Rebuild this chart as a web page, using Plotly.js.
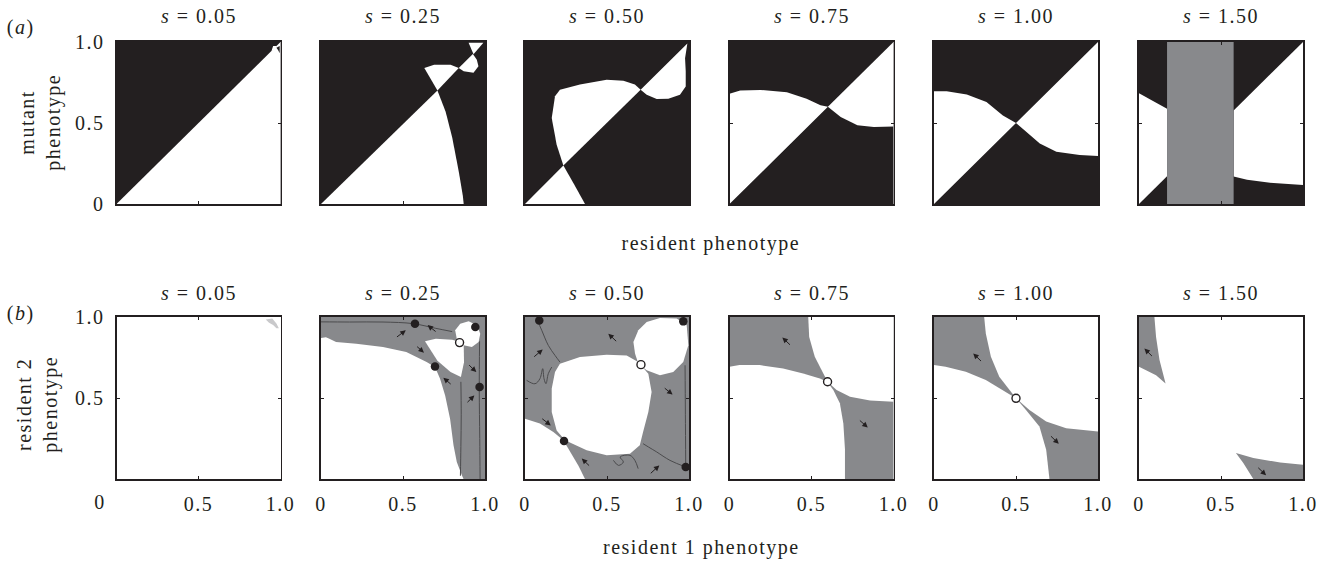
<!DOCTYPE html>
<html><head><meta charset="utf-8">
<script src="https://cdn.plot.ly/plotly-3.0.1.min.js"></script>
<style>html,body{margin:0;padding:0;background:#fff}#chart{width:1336px;height:562px}
#chart .main-svg text{letter-spacing:1.5px}</style>
</head><body><div id="chart"></div>
<script>
// Strength of selection for each column of panels
const sValues = ['0.05', '0.25', '0.50', '0.75', '1.00', '1.50'];
const tickVals = [0, 0.5, 1];
const tickText = ['0', '0.5', '1.0'];

// ---- Row (a): pairwise invasibility plots; white = mutant cannot invade, black = can ----
const a1WhiteX = [0, 1, 1];
const a1WhiteY = [0, 0, 1];
const a1SpotX = [0.945, 0.955, 0.975, 0.968];
const a1SpotY = [0.945, 0.975, 0.975, 0.955];
const a1NotchX = [0.975, 0.995, 0.995, 0.985];
const a1NotchY = [0.965, 0.975, 0.93, 0.95];

const a2LowX = [0, 0.87, 0.865, 0.84, 0.80, 0.76, 0.71];
const a2LowY = [0, 0, 0.05, 0.20, 0.41, 0.57, 0.70];
const a2WedgeX = [0.71, 0.665, 0.63, 0.69, 0.79, 0.84];
const a2WedgeY = [0.70, 0.778, 0.84, 0.86, 0.86, 0.84];
const a2BlobX = [0.84, 0.87, 0.93, 0.96, 0.95, 0.926];
const a2BlobY = [0.84, 0.82, 0.81, 0.85, 0.89, 0.926];
const a2TipX = [0.93, 0.90, 0.99];
const a2TipY = [0.925, 0.995, 0.995];

const a3LowX = [0, 0.366, 0.30, 0.234];
const a3LowY = [0, 0, 0.12, 0.237];
const a3UpX = [0.234, 0.193, 0.163, 0.183, 0.213, 0.335, 0.498, 0.60, 0.67, 0.705];
const a3UpY = [0.237, 0.366, 0.531, 0.665, 0.706, 0.737, 0.767, 0.761, 0.737, 0.706];
const a3RightX = [0.705, 0.742, 0.803, 0.874, 0.945, 0.98, 0.98, 0.976, 0.99];
const a3RightY = [0.706, 0.675, 0.648, 0.65, 0.675, 0.726, 0.819, 0.90, 0.99];

const a4LeftX = [0, 0, 0.065, 0.19, 0.35, 0.47, 0.555, 0.6];
const a4LeftY = [0, 0.68, 0.70, 0.704, 0.69, 0.65, 0.61, 0.6];
const a4RightX = [0.6, 1, 1, 0.88, 0.78, 0.678];
const a4RightY = [0.6, 1, 0.478, 0.476, 0.486, 0.537];

const a5LeftX = [0, 0, 0.077, 0.20, 0.32, 0.42, 0.5];
const a5LeftY = [0, 0.696, 0.696, 0.676, 0.63, 0.547, 0.5];
const a5RightX = [0.5, 1, 1, 0.888, 0.746, 0.645, 0.564];
const a5RightY = [0.5, 1, 0.296, 0.302, 0.322, 0.373, 0.445];

const a6LeftX = [0, 0, 0.171, 0.171];
const a6LeftY = [0, 0.684, 0.588, 0.171];
const a6RightX = [0.577, 1, 1, 0.82, 0.659, 0.577];
const a6RightY = [0.577, 1, 0.118, 0.129, 0.149, 0.169];
const a6BandX = [0.171, 0.577, 0.577, 0.171];
const a6BandY = [0, 0, 1, 1];

// ---- Row (b): trait evolution plots for two residents ----
const b1SpeckX = [0.91, 0.95, 0.975, 0.99, 0.975, 0.955, 0.93];
const b1SpeckY = [0.985, 0.99, 0.96, 0.93, 0.93, 0.95, 0.965];

const b2MainX = [0, 0.869, 0.859, 0.828, 0.808, 0.787, 0.757, 0.726, 0.695, 0.644, 0.52, 0.378, 0.215, 0.092, 0.051, 0.03, 0];
const b2MainY = [0, 0, 0.023, 0.105, 0.208, 0.372, 0.516, 0.619, 0.691, 0.722, 0.784, 0.815, 0.835, 0.846, 0.866, 0.875, 0.87];
const b2WedgeX = [0.634, 0.70, 0.80, 0.87, 0.872, 0.853, 0.79, 0.71];
const b2WedgeY = [0.85, 0.865, 0.86, 0.84, 0.72, 0.63, 0.66, 0.73];
const b2CircleX = [0.818, 0.849, 0.90, 0.951, 0.971, 0.961, 0.92, 0.869, 0.828];
const b2CircleY = [0.918, 0.959, 0.973, 0.949, 0.897, 0.846, 0.815, 0.825, 0.866];
const b2TrackAX = [0, 0.174, 0.378, 0.562, 0.70, 0.80];
const b2TrackAY = [0.97, 0.969, 0.969, 0.959, 0.93, 0.91];
const b2TrackBX = [0.853, 0.855, 0.853, 0.85];
const b2TrackBY = [0.60, 0.40, 0.20, 0.02];
const b2TrackCX = [0.967, 0.965, 0.968, 0.97];
const b2TrackCY = [0.85, 0.55, 0.25, 0];
const b2DotsX = [0.573, 0.941, 0.695, 0.967];
const b2DotsY = [0.959, 0.938, 0.695, 0.568];
const b2OpenX = [0.845];
const b2OpenY = [0.842];
const b2TailX = [0.454, 0.708, 0.577, 0.80, 0.894, 0.884];
const b2TailY = [0.870, 0.903, 0.825, 0.578, 0.712, 0.465];
const b2HeadX = [0.517, 0.65, 0.628, 0.746, 0.947, 0.935];
const b2HeadY = [0.918, 0.95, 0.780, 0.625, 0.66, 0.516];

const b3MainX = [0.213, 0.335, 0.498, 0.62, 0.69, 0.752, 0.772, 0.752, 0.72, 0.70, 0.64, 0.498, 0.376, 0.295, 0.244, 0.193, 0.163, 0.163, 0.183];
const b3MainY = [0.712, 0.753, 0.767, 0.763, 0.722, 0.65, 0.537, 0.414, 0.29, 0.208, 0.156, 0.146, 0.177, 0.218, 0.239, 0.30, 0.414, 0.558, 0.66];
const b3CircleX = [0.661, 0.691, 0.742, 0.823, 0.925, 0.986, 0.996, 0.965, 0.904, 0.823, 0.742, 0.691, 0.671];
const b3CircleY = [0.846, 0.918, 0.969, 0.994, 0.99, 0.949, 0.825, 0.722, 0.66, 0.64, 0.671, 0.712, 0.774];
const b3CornerX = [0, 0, 0.091, 0.173, 0.234, 0.274, 0.325, 0.366];
const b3CornerY = [0, 0.372, 0.342, 0.29, 0.239, 0.167, 0.084, 0];
const b3TrackAX = [0.071, 0.102, 0.142, 0.183, 0.213];
const b3TrackAY = [0.99, 0.918, 0.825, 0.763, 0.722];
const b3TrackBX = [0.98, 0.884, 0.803, 0.752, 0.72];
const b3TrackBY = [0.074, 0.115, 0.167, 0.198, 0.218];
const b3TrackCX = [0.01, 0.061, 0.091, 0.108, 0.116, 0.128, 0.142, 0.163];
const b3TrackCY = [0.609, 0.588, 0.619, 0.681, 0.619, 0.588, 0.65, 0.691];
const b3TrackDX = [0.539, 0.57, 0.60, 0.58, 0.64, 0.67, 0.69];
const b3TrackDY = [0.115, 0.084, 0.105, 0.136, 0.146, 0.115, 0.064];
const b3TrackEX = [0.976, 0.978, 0.98];
const b3TrackEY = [0.702, 0.40, 0.084];
const b3DotsX = [0.087, 0.965, 0.238, 0.98];
const b3DotsY = [0.979, 0.973, 0.235, 0.074];
const b3OpenX = [0.707];
const b3OpenY = [0.706];
const b3TailX = [0.047, 0.565, 0.096, 0.40, 0.843, 0.758];
const b3TailY = [0.747, 0.842, 0.379, 0.074, 0.568, 0.027];
const b3HeadX = [0.108, 0.508, 0.157, 0.346, 0.90, 0.819];
const b3HeadY = [0.80, 0.897, 0.331, 0.126, 0.521, 0.084];

const b4LowX = [0, 0, 0.061, 0.184, 0.327, 0.449, 0.551, 0.596, 0.633, 0.673, 0.694, 0.704, 0.704];
const b4LowY = [0, 0.693, 0.703, 0.703, 0.682, 0.652, 0.621, 0.60, 0.549, 0.467, 0.344, 0.18, 0];
const b4UpX = [0.48, 1, 1, 0.857, 0.735, 0.653, 0.598, 0.571, 0.52, 0.486];
const b4UpY = [1, 1, 0.477, 0.484, 0.508, 0.549, 0.60, 0.652, 0.754, 0.877];
const b4OpenX = [0.598];
const b4OpenY = [0.60];
const b4TailX = [0.378, 0.786];
const b4TailY = [0.82, 0.369];
const b4HeadX = [0.322, 0.843];
const b4HeadY = [0.873, 0.318];

const b5LowX = [0, 0, 0.071, 0.194, 0.316, 0.418, 0.5, 0.561, 0.643, 0.684, 0.704];
const b5LowY = [0, 0.703, 0.693, 0.662, 0.611, 0.549, 0.498, 0.426, 0.324, 0.18, 0];
const b5UpX = [0.306, 1, 1, 0.929, 0.806, 0.684, 0.582, 0.5, 0.459, 0.398, 0.347, 0.316];
const b5UpY = [1, 1, 0.293, 0.30, 0.314, 0.355, 0.426, 0.498, 0.549, 0.631, 0.754, 0.898];
const b5OpenX = [0.5];
const b5OpenY = [0.498];
const b5TailX = [0.296, 0.704];
const b5TailY = [0.719, 0.273];
const b5HeadX = [0.239, 0.761];
const b5HeadY = [0.775, 0.217];

const b6TopX = [0, 0.094, 0.104, 0.125, 0.162, 0.104, 0.043, 0];
const b6TopY = [1, 1, 0.877, 0.734, 0.59, 0.641, 0.672, 0.693];
const b6BotX = [0.591, 0.697, 0.861, 1, 1, 0.697, 0.636];
const b6BotY = [0.16, 0.129, 0.102, 0.088, 0, 0, 0.098];
const b6TailX = [0.088, 0.718];
const b6TailY = [0.75, 0.078];
const b6HeadX = [0.033, 0.775];
const b6HeadY = [0.805, 0.023];

// ---- styling ----
const INK = '#231f20';
const WHITE = '#ffffff';
const GREY = '#88898c';
const TRACK = '#4b4b4d';
const FONT = 'Liberation Serif, Times New Roman, serif';
const FS = 20;
const W = 1336, H = 562;
const panelLeft = [116.5, 321, 525, 729.5, 934, 1139];
const panelW = 164;
const rowTop = [42, 317], rowBottom = [204, 479];

const traces = [];
const shapes = [];
const annotations = [];
const layout = {
  width: W, height: H,
  margin: {l: 0, r: 0, t: 0, b: 0},
  paper_bgcolor: '#fff', plot_bgcolor: '#fff',
  showlegend: false,
  font: {family: FONT, size: FS, color: INK}
};

function ax(n) { return n === 1 ? '' : String(n); }

function poly(n, xs, ys, color) {
  traces.push({type: 'scatter', mode: 'lines', x: xs, y: ys, fill: 'toself',
    fillcolor: color, line: {width: 0, color: color},
    xaxis: 'x' + ax(n), yaxis: 'y' + ax(n), hoverinfo: 'skip'});
}
function track(n, xs, ys) {
  traces.push({type: 'scatter', mode: 'lines', x: xs, y: ys,
    line: {width: 1, color: TRACK, shape: 'spline'},
    xaxis: 'x' + ax(n), yaxis: 'y' + ax(n), hoverinfo: 'skip'});
}
function dots(n, xs, ys, open) {
  traces.push({type: 'scatter', mode: 'markers', x: xs, y: ys,
    marker: open ? {size: 8, color: WHITE, line: {width: 1.4, color: INK}}
                 : {size: 8.5, color: INK, line: {width: 0}},
    xaxis: 'x' + ax(n), yaxis: 'y' + ax(n), hoverinfo: 'skip'});
}
function arrows(n, tx, ty, hx, hy) {
  for (let i = 0; i < tx.length; i++) {
    annotations.push({xref: 'x' + ax(n), yref: 'y' + ax(n), axref: 'x' + ax(n), ayref: 'y' + ax(n),
      x: hx[i], y: hy[i], ax: tx[i], ay: ty[i], text: '', showarrow: true,
      arrowhead: 2, arrowsize: 1.1, arrowwidth: 1, arrowcolor: INK, standoff: 0, startstandoff: 0});
  }
}
function background(n, color) {
  shapes.push({type: 'rect', xref: 'x' + ax(n) + ' domain', yref: 'y' + ax(n) + ' domain',
    x0: 0, x1: 1, y0: 0, y1: 1, fillcolor: color, line: {width: 0}, layer: 'below'});
}

// axes: 1-6 top row, 7-12 bottom row
for (let n = 1; n <= 12; n++) {
  const row = n <= 6 ? 0 : 1;
  const col = (n - 1) % 6;
  const x0 = panelLeft[col] / W, x1 = (panelLeft[col] + panelW) / W;
  const y0 = 1 - rowBottom[row] / H, y1 = 1 - rowTop[row] / H;
  const common = {range: [0, 1], fixedrange: true, showgrid: false, zeroline: false,
    showline: true, mirror: 'ticks', linecolor: INK, linewidth: 1.9,
    ticks: 'inside', ticklen: 3, tickwidth: 1, tickcolor: INK,
    tickvals: tickVals, ticktext: tickText, tickfont: {family: FONT, size: FS, color: INK}};
  const xa = Object.assign({}, common, {domain: [x0, x1], anchor: 'y' + ax(n),
    showticklabels: row === 1, ticklabelstandoff: 6});
  if (n === 7) xa.ticktext = ['', tickText[1], tickText[2]];
  const ya = Object.assign({}, common, {domain: [y0, y1], anchor: 'x' + ax(n),
    showticklabels: col === 0, ticklabelstandoff: 6});
  if (n === 7) ya.ticktext = ['', tickText[1], tickText[2]];
  layout['xaxis' + ax(n)] = xa;
  layout['yaxis' + ax(n)] = ya;

  // column titles
  annotations.push({xref: 'paper', yref: 'paper', x: (panelLeft[col] + panelW / 2) / W,
    y: 1 - (row === 0 ? 16 : 293) / H, xanchor: 'center', yanchor: 'middle', showarrow: false,
    text: '<i>s</i> = ' + sValues[col], font: {family: FONT, size: FS, color: INK}});
}

// row (a)
for (let n = 1; n <= 6; n++) background(n, INK);
poly(1, a1WhiteX, a1WhiteY, WHITE);
poly(1, a1SpotX, a1SpotY, WHITE);
poly(1, a1NotchX, a1NotchY, INK);
poly(2, a2LowX, a2LowY, WHITE);
poly(2, a2WedgeX, a2WedgeY, WHITE);
poly(2, a2BlobX, a2BlobY, WHITE);
poly(2, a2TipX, a2TipY, WHITE);
poly(3, a3LowX, a3LowY, WHITE);
poly(3, a3UpX, a3UpY, WHITE);
poly(3, a3RightX, a3RightY, WHITE);
poly(4, a4LeftX, a4LeftY, WHITE);
poly(4, a4RightX, a4RightY, WHITE);
poly(5, a5LeftX, a5LeftY, WHITE);
poly(5, a5RightX, a5RightY, WHITE);
poly(6, a6LeftX, a6LeftY, WHITE);
poly(6, a6RightX, a6RightY, WHITE);
poly(6, a6BandX, a6BandY, GREY);

// row (b)
background(7, WHITE);
poly(7, b1SpeckX, b1SpeckY, '#c9c9cb');

background(8, GREY);
poly(8, b2MainX, b2MainY, WHITE);
poly(8, b2WedgeX, b2WedgeY, WHITE);
poly(8, b2CircleX, b2CircleY, WHITE);
track(8, b2TrackAX, b2TrackAY);
track(8, b2TrackBX, b2TrackBY);
track(8, b2TrackCX, b2TrackCY);
dots(8, b2DotsX, b2DotsY, false);
dots(8, b2OpenX, b2OpenY, true);
arrows(8, b2TailX, b2TailY, b2HeadX, b2HeadY);

background(9, GREY);
poly(9, b3MainX, b3MainY, WHITE);
poly(9, b3CircleX, b3CircleY, WHITE);
poly(9, b3CornerX, b3CornerY, WHITE);
track(9, b3TrackAX, b3TrackAY);
track(9, b3TrackBX, b3TrackBY);
track(9, b3TrackCX, b3TrackCY);
track(9, b3TrackDX, b3TrackDY);
track(9, b3TrackEX, b3TrackEY);
dots(9, b3DotsX, b3DotsY, false);
dots(9, b3OpenX, b3OpenY, true);
arrows(9, b3TailX, b3TailY, b3HeadX, b3HeadY);

background(10, GREY);
poly(10, b4LowX, b4LowY, WHITE);
poly(10, b4UpX, b4UpY, WHITE);
dots(10, b4OpenX, b4OpenY, true);
arrows(10, b4TailX, b4TailY, b4HeadX, b4HeadY);

background(11, GREY);
poly(11, b5LowX, b5LowY, WHITE);
poly(11, b5UpX, b5UpY, WHITE);
dots(11, b5OpenX, b5OpenY, true);
arrows(11, b5TailX, b5TailY, b5HeadX, b5HeadY);

background(12, WHITE);
poly(12, b6TopX, b6TopY, GREY);
poly(12, b6BotX, b6BotY, GREY);
arrows(12, b6TailX, b6TailY, b6HeadX, b6HeadY);

// panel letters, axis titles and the shared corner label
const txt = (t, px, py, extra) => annotations.push(Object.assign({xref: 'paper', yref: 'paper',
  x: px / W, y: 1 - py / H, xanchor: 'center', yanchor: 'middle', showarrow: false, text: t,
  font: {family: FONT, size: FS, color: INK}}, extra || {}));
txt('(<i>a</i>)', 20, 27);
txt('(<i>b</i>)', 20, 313);
txt('mutant<br>phenotype', 40, 123, {textangle: -90});
txt('resident 2<br>phenotype', 37, 405, {textangle: -90});
txt('resident phenotype', 711, 244);
txt('resident 1 phenotype', 701, 547);
txt(tickText[0], 100, 502);

layout.shapes = shapes;
layout.annotations = annotations;
Plotly.newPlot('chart', traces, layout, {staticPlot: true, displayModeBar: false});
</script></body></html>
